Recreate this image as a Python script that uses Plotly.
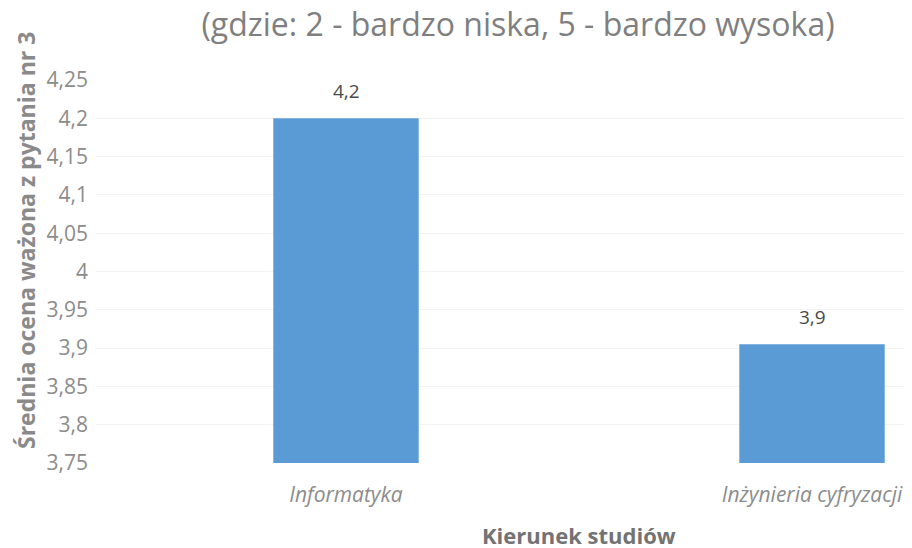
import plotly.graph_objects as go

categories = ["Informatyka", "Inżynieria cyfryzacji"]
values = [4.2, 3.905]
tick_vals = [3.75, 3.8, 3.85, 3.9, 3.95, 4.0, 4.05, 4.1, 4.15, 4.2, 4.25]
tick_text = ["3,75", "3,8", "3,85", "3,9", "3,95", "4", "4,05", "4,1", "4,15", "4,2", "4,25"]
label_text = ["4,2", "3,9"]

FONT = "'Open Sans', sans-serif"
# page body has an 8px margin, so the figure is 8px smaller than the window
W, H = 904, 540
L, R, T, B = 88, 7, 72, 85
PX_PER_CAT = 466
C0 = 338

fig = go.Figure()
fig.add_trace(go.Bar(
    x=[0, 1], y=values, base=0,
    marker=dict(color="#5b9bd5", line=dict(width=0)),
    width=0.312,
    hoverinfo="skip",
))

annotations = []
for i, (v, t) in enumerate(zip(values, label_text)):
    annotations.append(dict(
        x=i, y=v, xref="x", yref="y", text=t, showarrow=False,
        yshift=27, font=dict(family=FONT, size=19, color="#4a4a4a"),
    ))

pw = W - L - R
ph = H - T - B
annotations.append(dict(
    x=(18 - L) / pw, y=(H - B - 233) / ph, xref="paper", yref="paper",
    text="Średnia ocena ważona z pytania nr 3", textangle=-90, showarrow=False,
    xanchor="center", yanchor="middle",
    font=dict(family=FONT, size=23, color="#8a8a8a", weight="bold"),
))
annotations.append(dict(
    x=(571 - L) / pw, y=-(527 - (H - B)) / ph, xref="paper", yref="paper",
    text="Kierunek studiów", showarrow=False, xanchor="center", yanchor="middle",
    font=dict(family=FONT, size=22, color="#737373", weight="bold"),
))

fig.update_layout(
    width=W, height=H,
    margin=dict(l=L, r=R, t=T, b=B, autoexpand=False),
    paper_bgcolor="white", plot_bgcolor="white",
    showlegend=False,
    title=dict(
        text="(gdzie: 2 - bardzo niska, 5 - bardzo wysoka)",
        x=510 / W, xanchor="center", y=1 - 17 / H, yanchor="middle",
        font=dict(family=FONT, size=32, color="#7f7f7f"),
    ),
    xaxis=dict(
        range=[-(C0 - L) / PX_PER_CAT, (W - R - C0) / PX_PER_CAT],
        tickmode="array", tickvals=[0, 1], ticktext=categories,
        showgrid=False, zeroline=False, showline=False, ticks="",
        tickfont=dict(family=FONT, size=21, color="#8c8c8c", style="italic"),
        ticklabelstandoff=17,
    ),
    yaxis=dict(
        range=[3.75, 4.25],
        tickmode="array", tickvals=tick_vals, ticktext=tick_text,
        showgrid=True, gridcolor="#f3f3f3", gridwidth=1,
        zeroline=False, showline=False, ticks="",
        tickfont=dict(family=FONT, size=21, color="#8c8c8c"),
        ticklabelstandoff=7,
    ),
    annotations=annotations,
)

fig.write_html("out.html")
